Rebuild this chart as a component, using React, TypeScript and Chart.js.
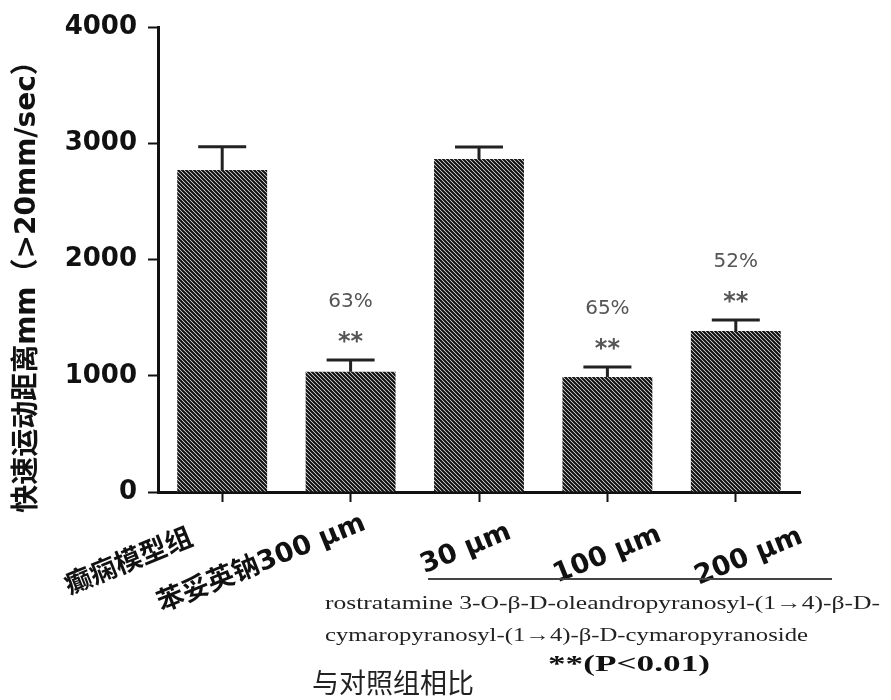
import React, { useEffect, useRef } from "react";
import { Chart, registerables } from "chart.js";

Chart.register(...registerables);

// ---- data ----
const categories = ["癫痫模型组", "苯妥英钠300 μm", "30 μm", "100 μm", "200 μm"];
const means = [2770, 1035, 2865, 990, 1385];
const errors = [200, 100, 103, 85, 95];
const significance = ["", "**", "", "**", "**"];
const inhibition = ["", "63%", "", "65%", "52%"];
const yMin = 0;
const yMax = 4000;
const yStep = 1000;
const yTitle = "快速运动距离mm（>20mm/sec）";
const compoundLine1 = "rostratamine 3-O-β-D-oleandropyranosyl-(1→4)-β-D-";
const compoundLine2 = "cymaropyranosyl-(1→4)-β-D-cymaropyranoside";
const pNote = "**(P<0.01)";
const compareNote = "与对照组相比";

function makeHatch(): CanvasPattern | string {
  const c = document.createElement("canvas");
  c.width = 4;
  c.height = 4;
  const g = c.getContext("2d");
  if (!g) return "#333";
  g.fillStyle = "#ffffff";
  g.fillRect(0, 0, 4, 4);
  g.strokeStyle = "#111111";
  g.lineWidth = 2.2;
  g.beginPath();
  g.moveTo(-1, -1);
  g.lineTo(5, 5);
  g.moveTo(-1, 3);
  g.lineTo(1, 5);
  g.moveTo(3, -1);
  g.lineTo(5, 1);
  g.stroke();
  const p = g.createPattern(c, "repeat");
  return p || "#333";
}

function drawStretched(
  ctx: CanvasRenderingContext2D,
  text: string,
  x: number,
  y: number,
  targetWidth: number,
  font: string,
  color: string
) {
  ctx.save();
  ctx.font = font;
  ctx.fillStyle = color;
  ctx.textAlign = "left";
  ctx.textBaseline = "middle";
  const w = ctx.measureText(text).width;
  const sx = w > 0 ? targetWidth / w : 1;
  ctx.translate(x, y);
  ctx.scale(sx, 1);
  ctx.fillText(text, 0, 0);
  ctx.restore();
}

const annotationPlugin = {
  id: "annotations",
  afterDatasetsDraw(chart: any) {
    const ctx: CanvasRenderingContext2D = chart.ctx;
    const xs = chart.scales.x;
    const ys = chart.scales.y;

    // error bars
    ctx.save();
    ctx.strokeStyle = "#222";
    ctx.lineWidth = 3;
    for (let i = 0; i < means.length; i++) {
      const x = xs.getPixelForValue(i);
      const yb = ys.getPixelForValue(means[i]);
      const yt = ys.getPixelForValue(means[i] + errors[i]);
      ctx.beginPath();
      ctx.moveTo(x, yb);
      ctx.lineTo(x, yt);
      ctx.moveTo(x - 24, yt);
      ctx.lineTo(x + 24, yt);
      ctx.stroke();

      // significance + inhibition
      ctx.fillStyle = "#555";
      ctx.textAlign = "center";
      ctx.textBaseline = "alphabetic";
      if (significance[i]) {
        ctx.font = "bold 24px 'DejaVu Sans'";
        ctx.fillText(significance[i], x, yt - 25 + 14);
      }
      if (inhibition[i]) {
        ctx.font = "20px 'DejaVu Sans'";
        ctx.fillText(inhibition[i], x, yt - 60 + 7);
      }
    }
    ctx.restore();
  },
  afterDraw(chart: any) {
    const ctx: CanvasRenderingContext2D = chart.ctx;
    const xs = chart.scales.x;

    // y-axis title
    ctx.save();
    ctx.translate(28, 280);
    ctx.rotate(-Math.PI / 2);
    ctx.font = "bold 28px 'DejaVu Sans', 'Noto Sans CJK SC'";
    ctx.fillStyle = "#111";
    ctx.textAlign = "center";
    ctx.textBaseline = "middle";
    ctx.fillText(yTitle, 0, 0);
    ctx.restore();

    // category labels (rotated)
    const dx = [-93, -89, -13, 0, 13];
    const cy = [563, 564, 549, 555, 557];
    for (let i = 0; i < categories.length; i++) {
      const x = xs.getPixelForValue(i) + dx[i];
      ctx.save();
      ctx.translate(x, cy[i]);
      ctx.rotate((-22 * Math.PI) / 180);
      ctx.font = "bold 27px 'DejaVu Sans', 'Noto Sans CJK SC'";
      ctx.fillStyle = "#111";
      ctx.textAlign = "center";
      ctx.textBaseline = "middle";
      ctx.fillText(categories[i], 0, 0);
      ctx.restore();
    }

    // bracket line under the compound doses
    ctx.save();
    ctx.strokeStyle = "#444";
    ctx.lineWidth = 2;
    ctx.beginPath();
    ctx.moveTo(428, 579);
    ctx.lineTo(832, 579);
    ctx.stroke();
    ctx.restore();

    const serif = "'Liberation Serif', 'DejaVu Serif', serif";
    drawStretched(ctx, compoundLine1, 325, 604, 555, `19px ${serif}`, "#222");
    drawStretched(ctx, compoundLine2, 325, 636, 483, `19px ${serif}`, "#222");
    drawStretched(ctx, pNote, 548, 665, 162, `bold 23px ${serif}`, "#111");
    ctx.save();
    ctx.font = "27px 'Noto Sans CJK SC'";
    ctx.fillStyle = "#222";
    ctx.textAlign = "left";
    ctx.textBaseline = "middle";
    ctx.fillText(compareNote, 312, 683);
    ctx.restore();
  },
};

export default function App() {
  const ref = useRef<HTMLCanvasElement | null>(null);

  useEffect(() => {
    if (!ref.current) return;
    const hatch = makeHatch();
    const chart = new Chart(ref.current, {
      type: "bar",
      data: {
        labels: categories,
        datasets: [
          {
            data: means,
            backgroundColor: hatch as any,
            borderWidth: 0,
            barPercentage: 0.7,
            categoryPercentage: 1,
          },
        ],
      },
      options: {
        responsive: false,
        animation: false,
        devicePixelRatio: 1,
        layout: { padding: { left: 0, right: 91, top: 27, bottom: 0 } },
        plugins: {
          legend: { display: false },
          tooltip: { enabled: false },
        },
        scales: {
          x: {
            grid: {
              display: true,
              drawOnChartArea: false,
              drawTicks: true,
              offset: false,
              tickLength: 10,
              tickColor: "#111",
              tickWidth: 2,
            },
            border: { display: true, color: "#111", width: 3 },
            ticks: { display: false },
            afterFit: (s: any) => {
              s.height = 208;
            },
          },
          y: {
            min: yMin,
            max: yMax,
            grid: {
              display: true,
              drawOnChartArea: false,
              drawTicks: true,
              tickLength: 10,
              tickColor: "#111",
              tickWidth: 2,
            },
            border: { display: true, color: "#111", width: 3 },
            ticks: {
              stepSize: yStep,
              padding: 11,
              color: "#111",
              font: { family: "'DejaVu Sans'", size: 26, weight: "bold" },
              callback: (v: any) => String(v),
            },
            afterFit: (s: any) => {
              s.width = 158;
            },
          },
        },
      },
      plugins: [annotationPlugin],
    });
    return () => chart.destroy();
  }, []);

  return (
    <div style={{ position: "absolute", left: 0, top: 0, width: 891, height: 700, background: "#fff" }}>
      <canvas ref={ref} width={891} height={700} />
    </div>
  );
}
